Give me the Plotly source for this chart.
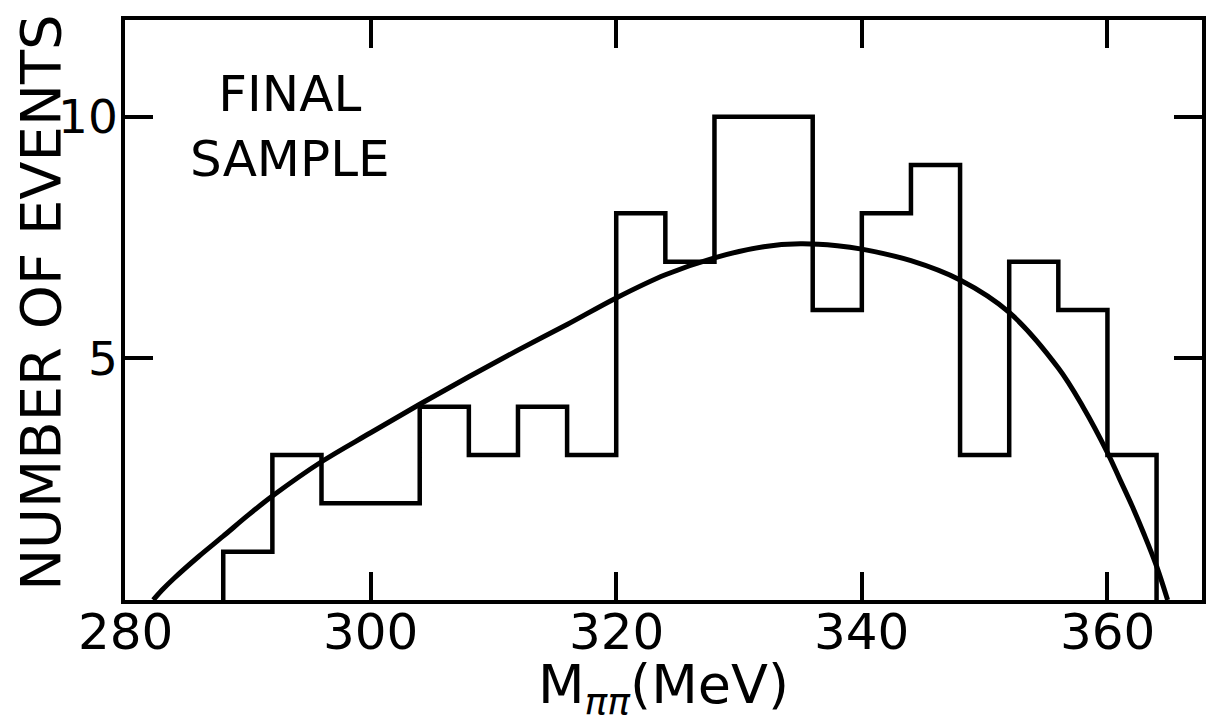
import plotly.graph_objects as go

# Histogram: left bin edges (MeV) and counts, 4 MeV bins
bin_left = [288, 292, 296, 300, 304, 308, 312, 316, 320, 324,
            328, 332, 336, 340, 344, 348, 352, 356, 360]
counts = [1, 3, 2, 2, 4, 3, 4, 3, 8, 7, 10, 10, 6, 8, 9, 3, 7, 6, 3]
bin_width = 4

# Smooth curve
curve_x = [282.3, 283, 284, 286, 288, 290, 292, 296, 300, 304, 308, 312, 316,
           320, 324, 328, 332, 335, 338, 340, 344, 348, 352, 356, 358, 360,
           361, 362, 363, 364, 364.9]
curve_y = [0.0, 0.2, 0.45, 0.9, 1.32, 1.75, 2.15, 2.86, 3.46, 4.05, 4.62, 5.17,
           5.7, 6.25, 6.73, 7.08, 7.31, 7.37, 7.33, 7.26, 7.02, 6.62, 5.95, 4.8,
           4.0, 3.05, 2.5, 1.95, 1.35, 0.7, 0.0]

x_ticks = [280, 300, 320, 340, 360]
x_ticktext = ["280", "300", "320", "340", "360"]
y_ticks = [5, 10]
y_ticktext = ["5", "10"]

FONT = "DejaVu Sans"

step_x = [bin_left[0]] + bin_left + [bin_left[-1] + bin_width]
step_y = [0] + counts + [0]

fig = go.Figure()
fig.add_trace(go.Scatter(x=curve_x, y=curve_y, mode="lines",
                         line=dict(color="black", width=5, shape="spline", smoothing=1.0),
                         hoverinfo="skip", showlegend=False))
fig.add_trace(go.Scatter(x=step_x, y=step_y, mode="lines",
                         line=dict(color="black", width=4.5, shape="hv"),
                         showlegend=False))

axis_common = dict(showline=True, linewidth=3.5, linecolor="black", mirror="ticks",
                   ticks="inside", ticklen=28, tickwidth=3.5, tickcolor="black",
                   showgrid=False, zeroline=False, showticklabels=False)

fig.update_xaxes(range=[280, 367.7], tickmode="array", tickvals=x_ticks, **axis_common)
fig.update_yaxes(range=[0, 12], tickmode="array", tickvals=y_ticks, **axis_common)

# tick labels placed with the axis scales
for xv, txt in zip(x_ticks, x_ticktext):
    fig.add_annotation(text=txt, x=xv, xref="x", y=0, yref="paper",
                       xanchor="center", yanchor="top", yshift=-1,
                       showarrow=False, font=dict(family=FONT, size=50, color="black"))
for yv, txt in zip(y_ticks, y_ticktext):
    fig.add_annotation(text=txt, x=0, xref="paper", y=yv, yref="y",
                       xanchor="right", yanchor="middle", xshift=-5,
                       showarrow=False, font=dict(family=FONT, size=47, color="black"))

fig.add_annotation(text="FINAL<br>SAMPLE", xref="paper", yref="paper",
                   x=0.153, y=0.816, xanchor="center", yanchor="middle",
                   showarrow=False, align="center",
                   font=dict(family=FONT, size=50, color="black"))
fig.add_annotation(text="NUMBER OF EVENTS", xref="paper", yref="paper",
                   x=-0.078, y=0.514, xanchor="center", yanchor="middle",
                   textangle=-90, showarrow=False,
                   font=dict(family=FONT, size=56, color="black"))
fig.add_annotation(text="M<sub><i>ππ</i></sub>(MeV)", xref="paper", yref="paper",
                   x=0.5, y=-0.152, xanchor="center", yanchor="middle",
                   showarrow=False,
                   font=dict(family=FONT, size=54, color="black"))

fig.update_layout(width=1215, height=726,
                  margin=dict(l=125, r=9, t=20, b=126),
                  plot_bgcolor="white", paper_bgcolor="white")

fig.write_html("out.html")
